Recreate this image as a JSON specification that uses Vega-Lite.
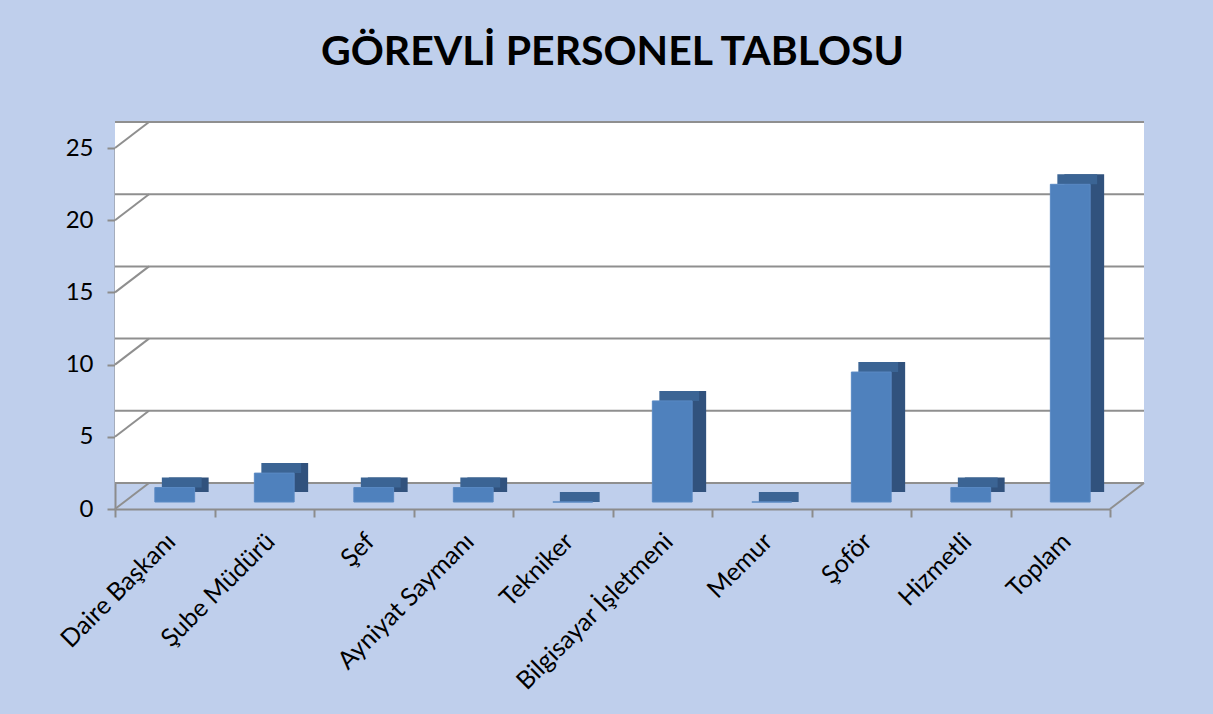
{
  "$schema": "https://vega.github.io/schema/vega-lite/v6.json",
  "width": 995,
  "height": 361,
  "autosize": "none",
  "padding": {"left": 115, "top": 148, "right": 103, "bottom": 205},
  "background": "#bfcfec",
  "title": {"text": "GÖREVLİ PERSONEL TABLOSU", "font": "Lato", "fontSize": 41, "fontWeight": "bold", "color": "#000000", "anchor": "middle", "offset": 47},
  "config": {
    "view": {"stroke": null},
    "font": "Lato",
    "axis": {"domainColor": "#8c8c8c", "domainWidth": 2, "tickColor": "#8c8c8c", "tickWidth": 2, "tickSize": 8, "labelColor": "#000000", "labelFont": "Lato", "grid": false},
    "axisY": {"labelFontSize": 24, "labelPadding": 14, "tickCount": 5},
    "axisX": {"labelAngle": -45, "labelFontSize": 25, "labelPadding": 20, "labelOffset": 6, "labelLimit": 0, "tickBand": "extent", "labelAlign": "right", "labelBaseline": "middle"}
  },
  "data": {"values": [
    {"gorev": "Daire Başkanı", "sayi": 1},
    {"gorev": "Şube Müdürü", "sayi": 2},
    {"gorev": "Şef", "sayi": 1},
    {"gorev": "Ayniyat Saymanı", "sayi": 1},
    {"gorev": "Tekniker", "sayi": 0},
    {"gorev": "Bilgisayar İşletmeni", "sayi": 7},
    {"gorev": "Memur", "sayi": 0},
    {"gorev": "Şoför", "sayi": 9},
    {"gorev": "Hizmetli", "sayi": 1},
    {"gorev": "Toplam", "sayi": 22}
  ]},
  "layer": [
    {
      "data": {"values": [{"duvar": 1}]},
      "mark": {"type": "rect", "fill": "#ffffff", "xOffset": 34, "x2Offset": 34, "yOffset": -26, "y2Offset": -26},
      "encoding": {
        "y": {"datum": 25, "type": "quantitative", "title": null, "scale": {"domain": [0, 25], "nice": false}},
        "y2": {"datum": 0}
      }
    },
    {
      "data": {"values": [{"t": 0}, {"t": 5}, {"t": 10}, {"t": 15}, {"t": 20}, {"t": 25}]},
      "mark": {"type": "rule", "stroke": "#8f8f8f", "strokeWidth": 2, "xOffset": 34, "x2Offset": 34, "yOffset": -26},
      "encoding": {
        "y": {"field": "t", "type": "quantitative", "title": null, "scale": {"domain": [0, 25], "nice": false}}
      }
    },
    {
      "data": {"values": [{"t": 0}, {"t": 5}, {"t": 10}, {"t": 15}, {"t": 20}, {"t": 25}]},
      "mark": {"type": "rule", "stroke": "#8f8f8f", "strokeWidth": 2, "x2Offset": 34, "y2Offset": -26},
      "encoding": {
        "x": {"datum": "Daire Başkanı", "type": "nominal", "bandPosition": 0, "title": null},
        "x2": {"datum": "Daire Başkanı", "bandPosition": 0},
        "y": {"field": "t", "type": "quantitative", "title": null, "scale": {"domain": [0, 25], "nice": false}},
        "y2": {"field": "t"}
      }
    },
    {
      "data": {"values": [{"t": 0}]},
      "mark": {"type": "rule", "stroke": "#8f8f8f", "strokeWidth": 2, "x2Offset": 34, "y2Offset": -26},
      "encoding": {
        "x": {"datum": "Toplam", "type": "nominal", "bandPosition": 1, "title": null},
        "x2": {"datum": "Toplam", "bandPosition": 1},
        "y": {"field": "t", "type": "quantitative", "title": null, "scale": {"domain": [0, 25], "nice": false}},
        "y2": {"field": "t"}
      }
    },
    {
      "mark": {"type": "bar", "fill": "#31527d", "width": {"band": 0.4}, "xOffset": 24, "yOffset": -17, "y2Offset": -9},
      "encoding": {
        "x": {"field": "gorev", "type": "nominal", "sort": null, "title": null, "scale": {"paddingInner": 0, "paddingOuter": 0, "domain": ["Daire Başkanı", "Şube Müdürü", "Şef", "Ayniyat Saymanı", "Tekniker", "Bilgisayar İşletmeni", "Memur", "Şoför", "Hizmetli", "Toplam"]}},
        "y": {"field": "sayi", "type": "quantitative", "title": null, "scale": {"domain": [0, 25], "nice": false}}
      }
    },
    {
      "mark": {"type": "bar", "fill": "#3b6494", "width": {"band": 0.4}, "xOffset": 17, "yOffset": -17, "y2Offset": -7},
      "encoding": {
        "x": {"field": "gorev", "type": "nominal", "sort": null, "title": null},
        "y": {"field": "sayi", "type": "quantitative", "title": null},
        "y2": {"field": "sayi"}
      }
    },
    {
      "mark": {"type": "bar", "fill": "#4f81bd", "stroke": "#5a8ac4", "strokeWidth": 1, "width": {"band": 0.4}, "xOffset": 10, "yOffset": -7, "y2Offset": -7},
      "encoding": {
        "x": {"field": "gorev", "type": "nominal", "sort": null, "title": null},
        "y": {"field": "sayi", "type": "quantitative", "title": null}
      }
    }
  ]
}
